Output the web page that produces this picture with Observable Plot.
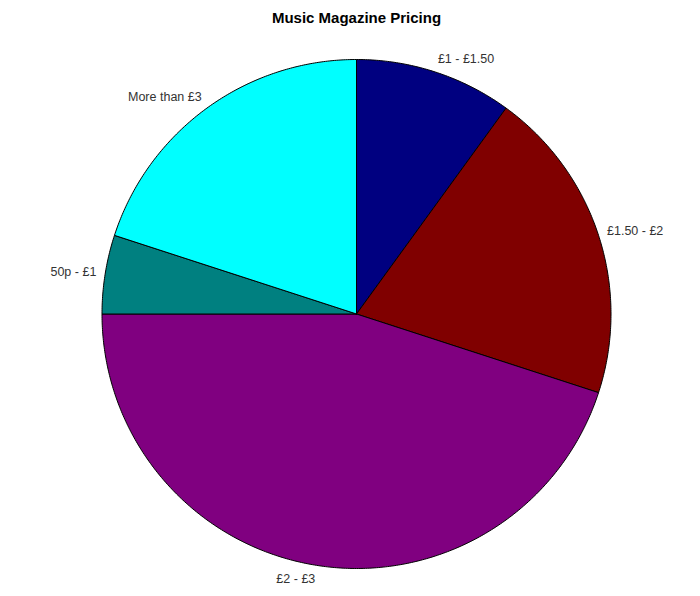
<!DOCTYPE html>
<html>
<head>
<meta charset="utf-8">
<script src="https://cdn.jsdelivr.net/npm/d3@7"></script>
<script src="https://cdn.jsdelivr.net/npm/@observablehq/plot@0.6"></script>
<style>
  html, body { margin: 0; padding: 0; background: #fff; }
  #chart svg { display: block; }
</style>
</head>
<body>
<div id="chart"></div>
<script>
const title = "Music Magazine Pricing";
const categories = ["£1 - £1.50", "£1.50 - £2", "£2 - £3", "50p - £1", "More than £3"];
const shares = [10, 20, 45, 5, 20];
const colors = ["#000080", "#800000", "#800080", "#008080", "#00FFFF"];

const W = 700, H = 596;
const cx = 356, cy = 313.5, R = 254.5;

// Build slice polygons (angles clockwise from 12 o'clock)
const total = d3.sum(shares);
const polys = [];
const labels = [];
let acc = 0;
categories.forEach((cat, i) => {
  const a0 = acc / total * 2 * Math.PI;
  acc += shares[i];
  const a1 = acc / total * 2 * Math.PI;
  polys.push({cat, x: 0, y: 0});
  const n = Math.max(2, Math.ceil((a1 - a0) / (Math.PI / 360)));
  for (let k = 0; k <= n; k++) {
    const a = a0 + (a1 - a0) * k / n;
    polys.push({cat, x: Math.sin(a), y: Math.cos(a)});
  }
  polys.push({cat, x: 0, y: 0});
  const am = (a0 + a1) / 2;
  labels.push({cat, x: 1.035 * Math.sin(am), y: 1.055 * Math.cos(am), right: Math.sin(am) >= 0});
});

const plot = Plot.plot({
  width: W,
  height: H,
  margin: 0,
  x: {domain: [-cx / R, (W - cx) / R], range: [0, W], axis: null},
  y: {domain: [-(H - cy) / R, cy / R], range: [H, 0], axis: null},
  color: {domain: categories, range: colors},
  style: {fontFamily: "'Liberation Sans', Arial, sans-serif", background: "#fff"},
  marks: [
    Plot.line(polys, {x: "x", y: "y", z: "cat", fill: "cat", stroke: "#000", strokeWidth: 1, curve: "linear"}),
    Plot.text(labels.filter(d => d.right), {x: "x", y: "y", text: "cat", textAnchor: "start", fontSize: 12.5, fill: "#333"}),
    Plot.text(labels.filter(d => !d.right), {x: "x", y: "y", text: "cat", textAnchor: "end", fontSize: 12.5, fill: "#333"}),
    Plot.text([title], {x: () => 0, y: () => (cy - 18) / R, text: d => d, fontSize: 15, fontWeight: "bold", fill: "#000"})
  ]
});
document.getElementById("chart").appendChild(plot);
</script>
</body>
</html>
